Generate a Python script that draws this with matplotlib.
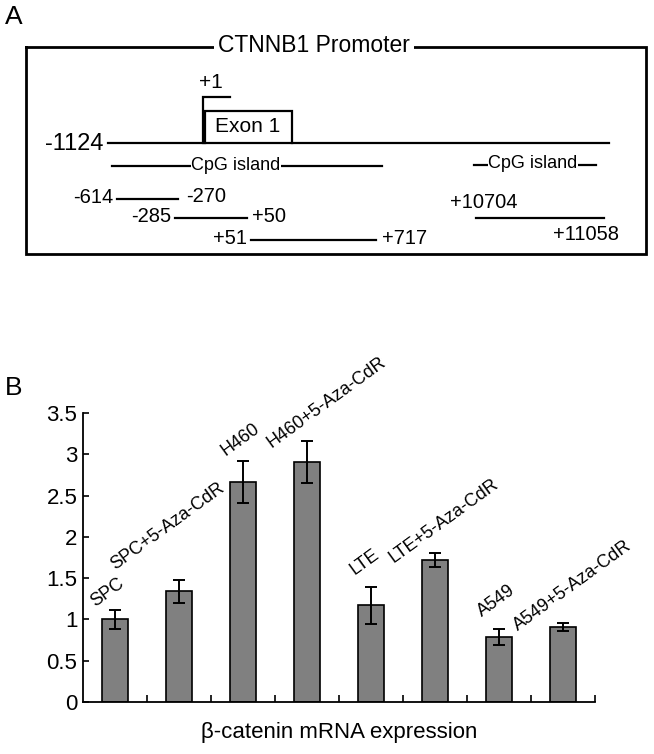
import matplotlib
matplotlib.use("Agg")
import matplotlib.pyplot as plt

plt.rcParams['font.family'] = ['Liberation Sans', 'DejaVu Sans']

# ---------------- data ----------------
groups = ["SPC", "SPC+5-Aza-CdR", "H460", "H460+5-Aza-CdR",
          "LTE", "LTE+5-Aza-CdR", "A549", "A549+5-Aza-CdR"]
expression = [1.00, 1.34, 2.66, 2.91, 1.17, 1.72, 0.79, 0.91]
errors = [0.115, 0.14, 0.255, 0.255, 0.22, 0.09, 0.095, 0.045]
yticks = [0, 0.5, 1, 1.5, 2, 2.5, 3, 3.5]
ytick_labels = ["0", "0.5", "1", "1.5", "2", "2.5", "3", "3.5"]

promoter_title = "CTNNB1 Promoter"
start_label = "-1124"
exon_label = "Exon 1"
tss_label = "+1"
cpg_label = "CpG island"
fragment_labels = [("-614", "-270"), ("-285", "+50"), ("+51", "+717"),
                   ("+10704", "+11058")]

# ---------------- layout ----------------
W, H = 654, 754
fig = plt.figure(figsize=(W / 100, H / 100), dpi=100)

# Panel A: schematic drawn in pixel layout coordinates
axA = fig.add_axes([0, 0, 1, 1])
axA.set_xlim(0, W)
axA.set_ylim(H, 0)
axA.axis("off")

lw = 1.6
fl = 14.5
axA.text(5, 17, "A", fontsize=19, ha="left", va="center")
# frame
axA.plot([26, 26, 646, 646, 26], [47, 254, 254, 47, 47], color="black", lw=2.0,
         solid_joinstyle="miter")
axA.text(314, 46, promoter_title, fontsize=16.5, ha="center", va="center",
         bbox=dict(facecolor="white", edgecolor="none", pad=3))
# main line
axA.plot([108, 609], [143, 143], color="black", lw=lw)
axA.text(104, 144, start_label, fontsize=17, ha="right", va="center")
# TSS bracket
axA.plot([202.5, 202.5, 230], [143, 96.5, 96.5], color="black", lw=lw,
         solid_joinstyle="miter")
axA.text(199, 83, tss_label, fontsize=15, ha="left", va="center")
# exon box
axA.plot([205, 205, 291.5, 291.5], [143, 110.5, 110.5, 143], color="black", lw=lw,
         solid_joinstyle="miter")
axA.text(248, 127, exon_label, fontsize=15, ha="center", va="center")
# CpG islands
axA.plot([112, 382], [166, 166], color="black", lw=lw)
axA.text(236, 165, cpg_label, fontsize=13, ha="center", va="center",
         bbox=dict(facecolor="white", edgecolor="none", pad=0.5))
axA.plot([474, 596], [165, 165], color="black", lw=lw)
axA.text(533, 164, cpg_label, fontsize=13, ha="center", va="center",
         bbox=dict(facecolor="white", edgecolor="none", pad=0.5))
# fragments
axA.plot([117, 178], [198.5, 198.5], color="black", lw=lw)
axA.text(113, 197.5, fragment_labels[0][0], fontsize=fl, ha="right", va="center")
axA.text(186, 196, fragment_labels[0][1], fontsize=fl, ha="left", va="center")
axA.plot([175, 247], [218, 218], color="black", lw=lw)
axA.text(171, 217, fragment_labels[1][0], fontsize=fl, ha="right", va="center")
axA.text(252, 217, fragment_labels[1][1], fontsize=fl, ha="left", va="center")
axA.plot([251, 376], [240, 240], color="black", lw=lw)
axA.text(247, 239, fragment_labels[2][0], fontsize=fl, ha="right", va="center")
axA.text(382, 239, fragment_labels[2][1], fontsize=fl, ha="left", va="center")
axA.plot([476, 604], [218, 218], color="black", lw=lw)
axA.text(450, 202, fragment_labels[3][0], fontsize=fl, ha="left", va="center")
axA.text(619, 234, fragment_labels[3][1], fontsize=fl, ha="right", va="center")

# Panel B label
axA.text(5, 388, "B", fontsize=19, ha="left", va="center")

# Panel B: bar chart
left, right, bottom, top = 83, 595, 702, 413
axB = fig.add_axes([left / W, (H - bottom) / H, (right - left) / W, (bottom - top) / H])
xs = list(range(len(groups)))
axB.bar(xs, expression, width=0.4, color="#808080", edgecolor="black", linewidth=1.2,
        yerr=errors, error_kw=dict(ecolor="black", elinewidth=1.4, capsize=4, capthick=1.4),
        zorder=2)
axB.set_xlim(-0.5, 7.5)
axB.set_ylim(0, 3.5)
axB.set_yticks(yticks)
axB.set_yticklabels(ytick_labels, fontsize=16)
axB.set_xticks([i + 0.5 for i in xs])
axB.set_xticklabels([])
axB.tick_params(axis="x", direction="in", length=5, width=1.2)
axB.tick_params(axis="y", direction="in", length=4, width=1.2, pad=4)
for s in ("top", "right"):
    axB.spines[s].set_visible(False)
for s in ("left", "bottom"):
    axB.spines[s].set_linewidth(1.3)
axB.set_xlabel("β-catenin mRNA expression", fontsize=16, labelpad=11)
axB.patch.set_alpha(0)

# group labels (layout offsets relative to each bar)
label_dx = [-0.31, -1.0, -0.28, -0.55, -0.25, -0.65, -0.27, -0.70]
label_dy = [0.04, 0.12, 0.06, -0.09, 0.15, -0.13, 0.15, -0.10]
for i, g in enumerate(groups):
    axB.text(xs[i] + label_dx[i], expression[i] + errors[i] + label_dy[i], g,
             fontsize=13, rotation=36, rotation_mode="anchor",
             ha="left", va="baseline", clip_on=False)

fig.savefig("out.png", dpi=100)
